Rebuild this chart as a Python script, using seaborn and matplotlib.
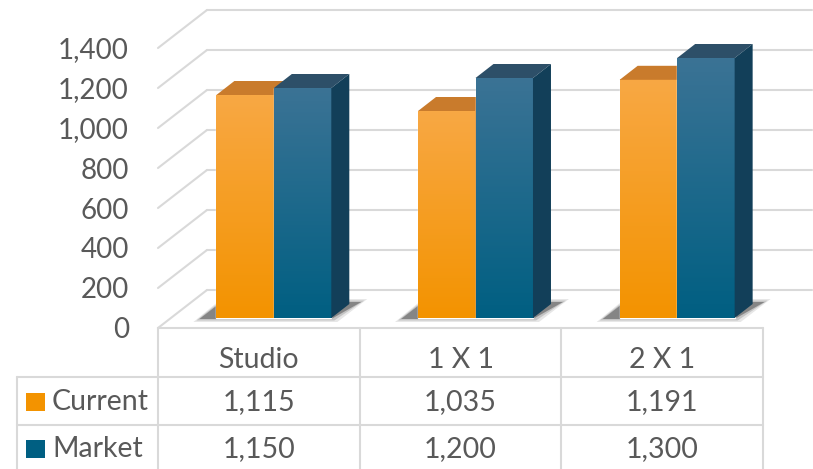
import matplotlib
matplotlib.use('Agg')
import matplotlib.pyplot as plt
import seaborn as sns
import numpy as np
import pandas as pd
from matplotlib.patches import Polygon, Rectangle
from matplotlib.colors import LinearSegmentedColormap

# data
categories = ['Studio', '1 X 1', '2 X 1']
series = ['Current', 'Market']
current = [1115, 1035, 1191]
market = [1150, 1200, 1300]
yticks = [0, 200, 400, 600, 800, 1000, 1200, 1400]

df = pd.DataFrame({
    'cat': categories * 2,
    'series': [series[0]] * 3 + [series[1]] * 3,
    'value': current + market,
})

# colours
orange_top, orange_bot, orange_cap, orange_side = '#f8a844', '#f39300', '#c97b2c', '#c2700f'
blue_top, blue_bot, blue_cap, blue_side = '#3b7395', '#005f82', '#2d4f68', '#123f59'
grid_c = '#d9d9d9'
text_c = '#595959'

sns.set_theme(style='white')
plt.rcParams['font.family'] = ['Lato', 'DejaVu Sans']

W, H = 813, 469
fig = plt.figure(figsize=(W / 100, H / 100), dpi=100)
ax = fig.add_axes([158 / W, (H - 328) / H, 605 / W, 280 / H])

sns.barplot(data=df, x='cat', y='value', hue='series', hue_order=series,
            palette=[orange_bot, blue_bot], width=0.57, saturation=1,
            legend=False, ax=ax, zorder=3)
bars = list(ax.patches)

ax.set_xlim(-0.5, 2.5)
ax.set_ylim(0, 1400)
ppx = 605 / 3.0      # pixels per category
ppy = 280 / 1400.0   # pixels per value unit

# walls (side wall diagonals + back wall lines)
wdx, wdy = 49 / ppx, 38 / ppy
for t in yticks:
    ax.plot([-0.5, -0.5 + wdx], [t, t + wdy], color=grid_c, lw=1.5, clip_on=False, zorder=1)
    ax.plot([-0.5 + wdx, 2.5 + wdx], [t + wdy, t + wdy], color=grid_c, lw=1.5, clip_on=False, zorder=1)

# 3D bars
bdx, bdy = 15 / ppx, 10 / ppy     # depth position of the bars
cdx, cdy = 18 / ppx, 14 / ppy     # depth of a bar
grad = np.linspace(0, 1, 200).reshape(-1, 1)
for i, p in enumerate(bars):
    is_cur = i < 3
    p.set_x(p.get_x() + bdx)
    p.set_y(bdy)
    x0, w, h = p.get_x(), p.get_width(), p.get_height()
    y0, y1 = bdy, bdy + h
    z = 3 if is_cur else 5
    cmap = LinearSegmentedColormap.from_list(
        'g', [orange_top, orange_bot] if is_cur else [blue_top, blue_bot])
    p.set_zorder(z)
    ax.imshow(grad, cmap=cmap, extent=[x0, x0 + w, y0, y1], aspect='auto',
              origin='upper', zorder=z + 0.1)
    ax.add_patch(Polygon([(x0, y1), (x0 + w, y1), (x0 + w + cdx, y1 + cdy), (x0 + cdx, y1 + cdy)],
                         closed=True, color=orange_cap if is_cur else blue_cap,
                         lw=0, clip_on=False, zorder=z + 0.2))
    ax.add_patch(Polygon([(x0 + w, y0), (x0 + w + cdx, y0 + cdy), (x0 + w + cdx, y1 + cdy), (x0 + w, y1)],
                         closed=True, color=orange_side if is_cur else blue_side,
                         lw=0, clip_on=False, zorder=z + 0.2))

# shadows on the floor
for k in range(3):
    left = bars[k].get_x()
    right = bars[k + 3].get_x() + bars[k + 3].get_width()
    for g, a in [(6, 0.12), (3, 0.2), (0, 0.45)]:
        ax.add_patch(Polygon([
            (left - (17 + g) / ppx, bdy - (1 + g / 2) / ppy),
            (right + g / ppx, bdy - (1 + g / 2) / ppy),
            (right + (30 + g) / ppx, bdy + (16 + g / 2) / ppy),
            (left + 5 / ppx, bdy + (16 + g / 2) / ppy)],
            closed=True, color='#3a3a3a', alpha=a, lw=0, clip_on=False, zorder=2))

ax.set_xlim(-0.5, 2.5)
ax.set_ylim(0, 1400)

# y axis labels
ax.set_yticks(yticks)
ax.set_yticklabels([f'{t:,}' for t in yticks])
ax.tick_params(axis='y', length=0, pad=21, labelsize=20, labelcolor=text_c)
ax.set_xticks([])
ax.set_xlabel('')
ax.set_ylabel('')
for s in ax.spines.values():
    s.set_visible(False)

# data table
lx = -0.5 - 141 / ppx
r1, r2, r3 = -49 / ppy, -97 / ppy, -141 / ppy
ax.plot([-0.5, 2.5], [0, 0], color=grid_c, lw=1.5, clip_on=False, zorder=1)
for yy in [r1, r2]:
    ax.plot([lx, 2.5], [yy, yy], color=grid_c, lw=1.5, clip_on=False)
for xx in [-0.5, 0.5, 1.5, 2.5]:
    ax.plot([xx, xx], [0, r3], color=grid_c, lw=1.5, clip_on=False)
ax.plot([lx, lx], [r1, r3], color=grid_c, lw=1.5, clip_on=False)

fs = 20.5
for j, c in enumerate(categories):
    ax.text(j, -32 / ppy, c, ha='center', va='center', fontsize=fs, color=text_c)
rows = [(series[0], current, orange_bot, -74 / ppy), (series[1], market, blue_bot, -121 / ppy)]
for name, vals, col, yc in rows:
    ax.add_patch(Rectangle((lx + 9 / ppx, yc - 9 / ppy), 19 / ppx, 18 / ppy,
                           color=col, lw=0, clip_on=False))
    ax.text(lx + 35 / ppx, yc, name, ha='left', va='center', fontsize=fs, color=text_c)
    for j, v in enumerate(vals):
        ax.text(j, yc, f'{v:,}', ha='center', va='center', fontsize=fs, color=text_c)

fig.savefig('out.png', dpi=100)
